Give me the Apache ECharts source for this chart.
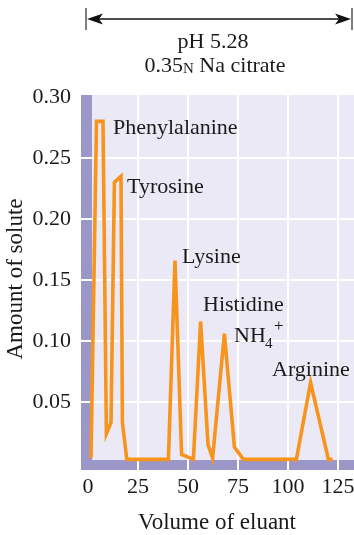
<!DOCTYPE html>
<html><head><meta charset="utf-8">
<script src="https://cdn.jsdelivr.net/npm/echarts@6/dist/echarts.min.js"></script>
<style>html,body{margin:0;padding:0;background:#fff}#c{width:354px;height:535px}</style>
</head><body><div id="c"></div>
<script>
// ---- data ----
const volume = [1.5, 4.25, 7.5, 9.2, 11.5, 13.2, 16.5, 17.2, 19.4, 40.2, 43.5, 46.8, 52.7, 56.3, 60.0, 62.3, 68.2, 73.2, 77.7, 104.2, 111.3, 120.2, 122.3];
const amount = [0.004, 0.280, 0.280, 0.024, 0.033, 0.230, 0.235, 0.033, 0.003, 0.003, 0.166, 0.007, 0.003, 0.116, 0.015, 0.004, 0.106, 0.013, 0.003, 0.003, 0.066, 0.003, 0.003];
const xTickLabels = [0, 25, 50, 75, 100, 125];
const yTickLabels = ['0.05', '0.10', '0.15', '0.20', '0.25', '0.30'];
const peakNames = ['Phenylalanine', 'Tyrosine', 'Lysine', 'Histidine', 'Arginine'];
const xTitle = 'Volume of eluant';
const yTitle = 'Amount of solute';
const bufferLine1 = 'pH 5.28';

// ---- styles ----
const FONT = '"Liberation Serif", "DejaVu Serif", serif';
const ORANGE = '#f7941d';
const LAVENDER = '#ebe9f5';
const PURPLE = '#9c97c9';
const TXT = '#1a1a1a';
const W = '#ffffff', NONE = 'rgba(0,0,0,0)';

const points = volume.map((v, i) => [v, amount[i]]);

const chart = echarts.init(document.getElementById('c'), null, {renderer: 'canvas'});

function txt(text, x, y, size, align, rot) {
  return {type: 'text', x: x, y: y, z: 100, rotation: rot || 0,
    style: {text: text, font: size + 'px ' + FONT, fill: TXT,
      textAlign: align || 'left', textVerticalAlign: 'middle',
      align: align || 'left', verticalAlign: 'middle'}};
}

const option = {
  animation: false,
  backgroundColor: '#fff',
  grid: {left: 38, right: -34, top: 36, bottom: 11, containLabel: false, outerBoundsMode: 'none'},
  xAxis: {
    type: 'value', min: -25, max: 150, interval: 25, offset: -61,
    axisLine: {show: false, onZero: false}, axisTick: {show: false},
    // ticks: -25, 0, 25, ... 150  (no white line at 0: the purple band)
    splitLine: {show: true, lineStyle: {color: [W, NONE, W, W, W, W, W, W], width: 2}},
    axisLabel: {
      margin: 13, fontFamily: FONT, fontSize: 22, color: TXT,
      formatter: function (v) { return xTickLabels.indexOf(Math.round(v)) >= 0 && Math.abs(v - Math.round(v)) < 1e-6 ? String(Math.round(v)) : ''; }
    }
  },
  yAxis: {
    type: 'value', min: -0.05, max: 0.35, interval: 0.05, offset: -50,
    axisLine: {show: false, onZero: false}, axisTick: {show: false},
    // ticks: -0.05, 0, 0.05 ... 0.35 (no white line at 0 and at the top edge)
    splitLine: {show: true, lineStyle: {color: [W, NONE, W, W, W, W, W, NONE, W], width: 2}},
    axisLabel: {
      margin: 17, fontFamily: FONT, fontSize: 22, color: TXT,
      formatter: function (v) { const s = (Math.round(v * 100) / 100).toFixed(2); return yTickLabels.indexOf(s) >= 0 ? s : ''; }
    }
  },
  series: [{
    type: 'line', data: points, showSymbol: false, symbol: 'none', z: 3,
    lineStyle: {color: ORANGE, width: 3.6, join: 'miter', cap: 'butt'},
    markArea: {
      silent: true, z: -1,
      data: [
        [{xAxis: -3.5, yAxis: -0.0057, itemStyle: {color: LAVENDER}}, {xAxis: 150, yAxis: 0.3016}],
        [{xAxis: -3.5, yAxis: -0.0057, itemStyle: {color: PURPLE}}, {xAxis: 2, yAxis: 0.3016}],
        [{xAxis: -3.5, yAxis: -0.0057, itemStyle: {color: PURPLE}}, {xAxis: 150, yAxis: 0.0025}]
      ]
    }
  }],
  graphic: [
    // top bracket arrow
    {type: 'line', z: 100, shape: {x1: 86, y1: 8, x2: 86, y2: 30}, style: {stroke: '#555', lineWidth: 1.5}},
    {type: 'line', z: 100, shape: {x1: 352, y1: 8, x2: 352, y2: 30}, style: {stroke: '#555', lineWidth: 1.5}},
    {type: 'line', z: 100, shape: {x1: 95, y1: 19, x2: 343, y2: 19}, style: {stroke: '#111', lineWidth: 1.6}},
    {type: 'polygon', z: 100, shape: {points: [[87, 19], [103, 13.5], [99, 19], [103, 24.5]]}, style: {fill: '#111'}},
    {type: 'polygon', z: 100, shape: {points: [[351, 19], [335, 13.5], [339, 19], [335, 24.5]]}, style: {fill: '#111'}},
    txt(bufferLine1, 213, 42, 22, 'center'),
    {type: 'text', x: 215, y: 65, z: 100,
      style: {text: '{a|0.35}{s|N}{a| Na citrate}', textAlign: 'center', textVerticalAlign: 'middle', align: 'center', verticalAlign: 'middle',
        rich: {a: {font: '22px ' + FONT, fill: TXT, color: TXT, lineHeight: 24, verticalAlign: 'bottom'},
               s: {font: '15px ' + FONT, fill: TXT, color: TXT, lineHeight: 20, verticalAlign: 'bottom'}}}},
    // peak labels
    txt(peakNames[0], 113, 128, 22),
    txt(peakNames[1], 127, 187, 22),
    txt(peakNames[2], 182, 257, 22),
    txt(peakNames[3], 203, 305, 22),
    txt('NH', 234, 336, 22),
    txt('4', 265, 344, 15),
    txt('+', 274, 327, 17),
    txt(peakNames[4], 272, 370, 22),
    // axis titles
    txt(xTitle, 217, 523, 23, 'center'),
    txt(yTitle, 16, 279, 23, 'center', Math.PI / 2)
  ]
};
chart.setOption(option);
</script></body></html>
